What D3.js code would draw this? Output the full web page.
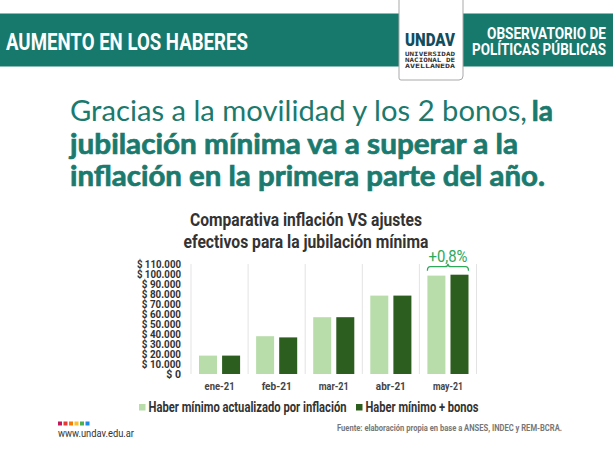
<!DOCTYPE html>
<html>
<head>
<meta charset="utf-8">
<script src="https://cdn.jsdelivr.net/npm/d3@7"></script>
<style>
  html, body { margin: 0; padding: 0; background: #fff; }
  svg { display: block; }
</style>
</head>
<body>
<svg width="613" height="459"></svg>
<script>
// Datos

const meses = ["ene-21", "feb-21", "mar-21", "abr-21", "may-21"];
const inflacion = [18400, 37800, 56800, 78400, 98400];
const bonos = [18400, 36600, 56800, 78400, 99300];
const series = ["Haber mínimo actualizado por inflación", "Haber mínimo + bonos"];
const yTicks = [0, 10000, 20000, 30000, 40000, 50000, 60000, 70000, 80000, 90000, 100000, 110000];
const diferencia = "+0,8%";

const teal = "#17786c";
const colores = ["#b8ddab", "#2c5e1f"];
const cond = "Roboto, 'Open Sans', sans-serif";

const svg = d3.select("svg");

// ajusta el ancho del texto para imitar la tipografia condensada
function fit(sel, w) {
    return sel.attr("textLength", w).attr("lengthAdjust", "spacingAndGlyphs");
}

// Encabezado

svg.append("rect")
    .attr("x", 0).attr("y", 13.5)
    .attr("width", 613).attr("height", 53)
    .attr("fill", teal);

fit(svg.append("text")
    .attr("x", 6).attr("y", 50)
    .attr("fill", "#fff")
    .attr("font-family", cond).attr("font-weight", 700).attr("font-size", 23)
    .text("AUMENTO EN LOS HABERES"), 242);

fit(svg.append("text")
    .attr("x", 606).attr("y", 38.5).attr("text-anchor", "end")
    .attr("fill", "#fff")
    .attr("font-family", cond).attr("font-weight", 700).attr("font-size", 16)
    .text("OBSERVATORIO DE"), 119);

fit(svg.append("text")
    .attr("x", 606).attr("y", 55).attr("text-anchor", "end")
    .attr("fill", "#fff")
    .attr("font-family", cond).attr("font-weight", 700).attr("font-size", 16)
    .text("POLÍTICAS PÚBLICAS"), 134);

// logo
svg.append("path")
    .attr("d", "M399,-1 V78 Q399,80 401,80 H459 Q463,80 463,76 V-1")
    .attr("fill", "#fff")
    .attr("stroke", "#a9a9a9").attr("stroke-width", 1);

fit(svg.append("text")
    .attr("x", 405).attr("y", 46)
    .attr("fill", "#124d5e")
    .attr("font-family", cond).attr("font-weight", 900).attr("font-size", 19)
    .text("UNDAV"), 50);

["UNIVERSIDAD", "NACIONAL DE", "AVELLANEDA"].forEach((t, i) => {
    fit(svg.append("text")
        .attr("x", 405).attr("y", 55.5 + i * 6.3)
        .attr("fill", "#333")
        .attr("font-family", "'DejaVu Sans Mono', monospace").attr("font-weight", 700).attr("font-size", 6)
        .text(t), 50);
});

// Titulo principal

const titulo = svg.append("g")
    .attr("fill", "#1b7a6e")
    .attr("font-family", "Lato, 'Open Sans', sans-serif")
    .attr("font-size", 28);

fit(titulo.append("text")
    .attr("x", 70).attr("y", 121)
    .attr("font-weight", 400)
    .text("Gracias a la movilidad y los 2 bonos,"), 457);

// las partes en negrita llevan un trazo fino para engrosarlas
const negrita = [
    { t: "la", x: 553, y: 121, anchor: "end", w: null },
    { t: "jubilación mínima va a superar a la", x: 70, y: 154, anchor: "start", w: 448 },
    { t: "inflación en la primera parte del año.", x: 70, y: 186, anchor: "start", w: 475 }
];
negrita.forEach(n => {
    const tx = titulo.append("text")
        .attr("x", n.x).attr("y", n.y).attr("text-anchor", n.anchor)
        .attr("font-weight", 700)
        .attr("stroke", "#1b7a6e").attr("stroke-width", 0.7)
        .text(n.t);
    if (n.w) fit(tx, n.w);
});

// Titulo del grafico

const subt = svg.append("g")
    .attr("fill", "#333")
    .attr("font-family", cond).attr("font-weight", 700).attr("font-size", 17.5)
    .attr("text-anchor", "middle");

fit(subt.append("text").attr("x", 306).attr("y", 226)
    .text("Comparativa inflación VS ajustes"), 232);
fit(subt.append("text").attr("x", 306).attr("y", 248)
    .text("efectivos para la jubilación mínima"), 245);

// Grafico de barras

const x = d3.scaleBand()
    .domain(meses)
    .range([191, 476.5]);

const xs = d3.scaleBand()
    .domain([0, 1])
    .range([8, x.bandwidth() - 8])
    .paddingInner(0.22);

const y = d3.scaleLinear()
    .domain([0, 110000])
    .range([374, 264]);

// separadores verticales
const bordes = meses.map(m => x(m)).concat([x.range()[1]]);
svg.append("g")
    .selectAll("line")
    .data(bordes)
    .join("line")
    .attr("x1", d => d).attr("x2", d => d)
    .attr("y1", y(110000)).attr("y2", y(0))
    .attr("stroke", "#e3e3e3").attr("stroke-width", 1);

const filas = meses.map((m, i) => ({ mes: m, valores: [inflacion[i], bonos[i]] }));

svg.append("g")
    .selectAll("g")
    .data(filas)
    .join("g")
    .attr("transform", d => `translate(${x(d.mes)},0)`)
    .selectAll("rect")
    .data(d => d.valores)
    .join("rect")
    .attr("x", (d, i) => xs(i))
    .attr("width", xs.bandwidth())
    .attr("y", d => y(d))
    .attr("height", d => y(0) - y(d))
    .attr("fill", (d, i) => colores[i]);

// eje y
const fmt = v => "$ " + d3.format(",")(v).replace(/,/g, ".");
const yAxis = svg.append("g")
    .attr("transform", "translate(181,0)")
    .call(d3.axisLeft(y).tickValues(yTicks).tickFormat(fmt).tickSize(0).tickPadding(0));
yAxis.select(".domain").remove();
yAxis.selectAll("text")
    .attr("fill", "#333")
    .attr("font-family", cond).attr("font-weight", 700).attr("font-size", 10.5)
    .attr("dy", "0.36em")
    .each(function (d) {
        fit(d3.select(this), fmt(d).length * 4.9);
    });

// eje x
const xAxis = svg.append("g")
    .attr("transform", "translate(0,382)")
    .call(d3.axisBottom(x).tickSize(0).tickPadding(0));
xAxis.select(".domain").remove();
xAxis.selectAll("text")
    .attr("fill", "#444")
    .attr("font-family", cond).attr("font-weight", 700).attr("font-size", 11)
    .attr("dy", "0.75em")
    .each(function () { fit(d3.select(this), 30); });

// anotacion de diferencia
const ult = meses[meses.length - 1];
const bx0 = x(ult) + xs(0);
const bx1 = x(ult) + xs(1) + xs.bandwidth();
const bxm = (bx0 + bx1) / 2;
const by = y(d3.max(bonos)) - 8;

svg.append("path")
    .attr("d", `M${bx0},${by + 4} Q${bx0},${by} ${bx0 + 3},${by} L${bxm - 3},${by} Q${bxm},${by} ${bxm},${by - 3} Q${bxm},${by} ${bxm + 3},${by} L${bx1 - 3},${by} Q${bx1},${by} ${bx1},${by + 4}`)
    .attr("fill", "none")
    .attr("stroke", "#2fa85c").attr("stroke-width", 1.3);

fit(svg.append("text")
    .attr("x", bxm).attr("y", by - 5).attr("text-anchor", "middle")
    .attr("fill", "#2fa85c")
    .attr("font-family", cond).attr("font-weight", 400).attr("font-size", 17)
    .text(diferencia), 39);

// leyenda
const leyenda = [
    { x: 139, w: 198 },
    { x: 356, w: 113 }
];
const lg = svg.append("g")
    .selectAll("g")
    .data(series)
    .join("g")
    .attr("transform", (d, i) => `translate(${leyenda[i].x},407)`);
lg.append("rect")
    .attr("x", 0).attr("y", -3)
    .attr("width", 6.5).attr("height", 6.5)
    .attr("fill", (d, i) => colores[i]);
lg.append("text")
    .attr("x", 9.5).attr("y", 5.2)
    .attr("fill", "#333")
    .attr("font-family", cond).attr("font-weight", 700).attr("font-size", 14.5)
    .text(d => d)
    .each(function (d, i) { fit(d3.select(this), leyenda[i].w); });

// Pie

const puntos = ["#c2185b", "#e53935", "#f57c00", "#fbc02d", "#4caf50", "#1e88e5"];
svg.append("g")
    .selectAll("rect")
    .data(puntos)
    .join("rect")
    .attr("x", (d, i) => 58 + i * 5.5)
    .attr("y", 421.5)
    .attr("width", 4).attr("height", 4)
    .attr("fill", d => d);

fit(svg.append("text")
    .attr("x", 58).attr("y", 436.5)
    .attr("fill", "#333")
    .attr("font-family", "Roboto, sans-serif").attr("font-weight", 400).attr("font-size", 10.5)
    .text("www.undav.edu.ar"), 76);

fit(svg.append("text")
    .attr("x", 337).attr("y", 431)
    .attr("fill", "#777")
    .attr("font-family", cond).attr("font-weight", 700).attr("font-size", 8.5)
    .text("Fuente: elaboración propia en base a ANSES, INDEC y REM-BCRA."), 225);
</script>
</body>
</html>
